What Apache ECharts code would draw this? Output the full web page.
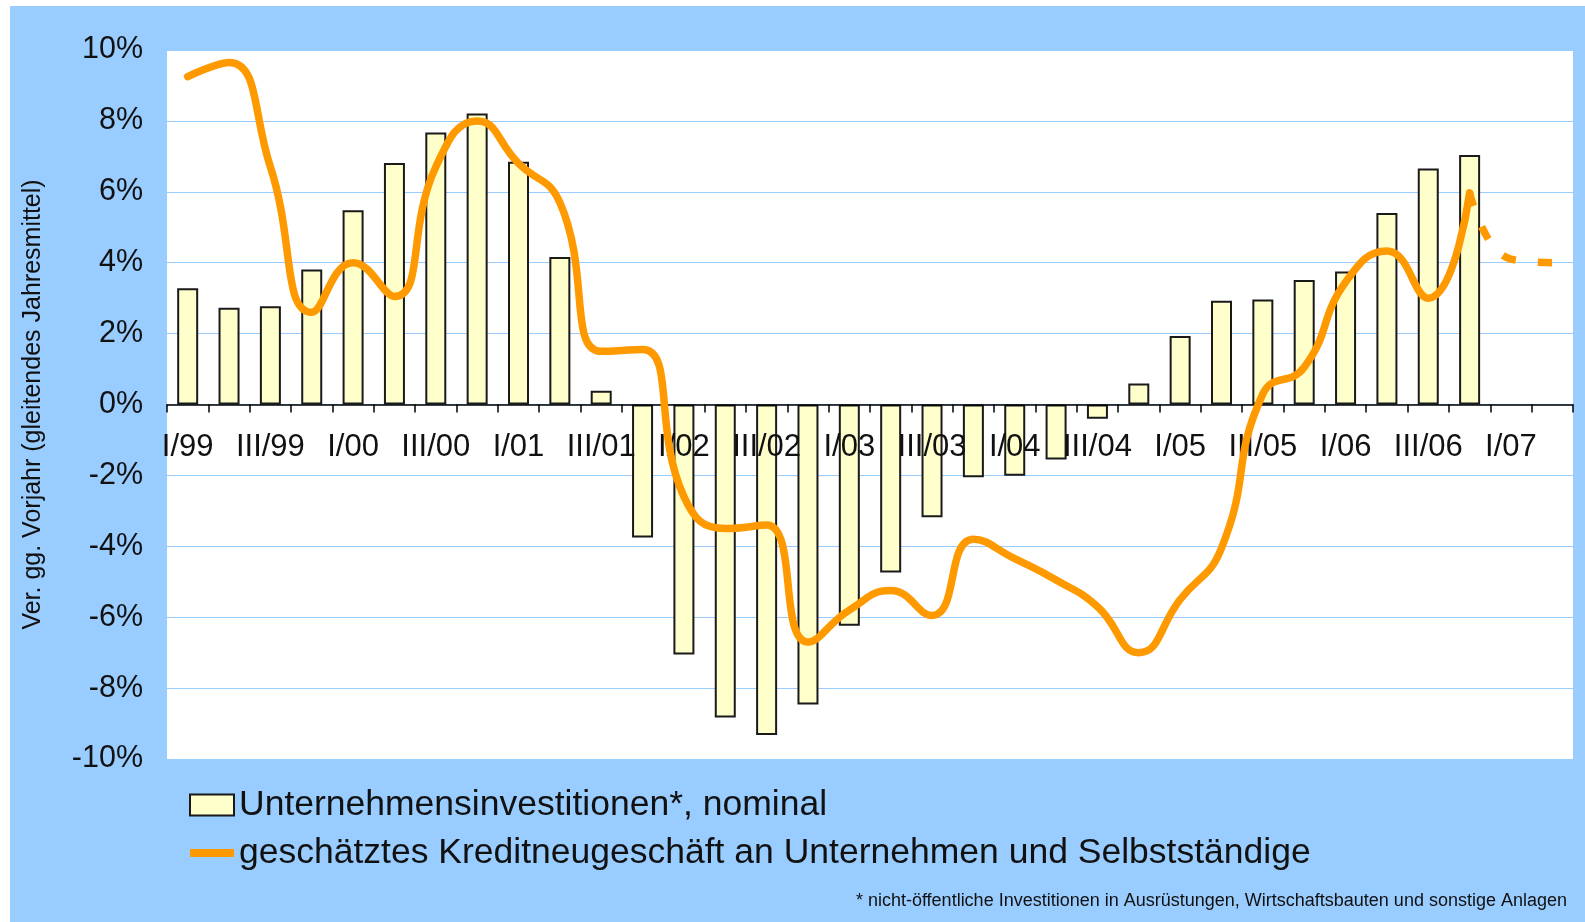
<!DOCTYPE html>
<html><head><meta charset="utf-8">
<script src="https://cdn.jsdelivr.net/npm/echarts@6/dist/echarts.min.js"></script>
<style>
html,body{margin:0;padding:0;background:#fff;width:1585px;height:922px;overflow:hidden}
#chart{position:absolute;left:10px;top:6px;width:1575px;height:916px}
</style>
</head><body><div id="chart"></div>
<script>
const categories = [
  'I/99','II/99','III/99','IV/99',
  'I/00','II/00','III/00','IV/00',
  'I/01','II/01','III/01','IV/01',
  'I/02','II/02','III/02','IV/02',
  'I/03','II/03','III/03','IV/03',
  'I/04','II/04','III/04','IV/04',
  'I/05','II/05','III/05','IV/05',
  'I/06','II/06','III/06','IV/06',
  'I/07','II/07'
];
const investValues = [
  3.28, 2.73, 2.77, 3.81, 5.48, 6.81, 7.67, 8.21, 6.85, 4.16, 0.39, -3.75,
  -7.05, -8.83, -9.32, -8.46, -6.24, -4.74, -3.18, -2.05, -2.01, -1.55, -0.40, 0.59,
  1.93, 2.93, 2.96, 3.51, 3.75, 5.40, 6.66, 7.04, null, null
];
const creditValues = [
  9.25, 9.65, 6.7, 2.6, 4.0, 3.05, 6.7, 8.0, 6.8, 5.7, 1.5, 1.55,
  -2.6, -3.5, -3.4, -6.7, -5.8, -5.25, -5.95, -3.8, -4.35, -4.95, -5.7, -7.0,
  -5.5, -4.05, 0.3, 1.05, 3.45, 4.33, 3.0, 5.97, null, null
];
const creditForecast = [
  null, null, null, null, null, null, null, null, null, null, null, null,
  null, null, null, null, null, null, null, null, null, null, null, null,
  null, null, null, null, null, null, null, 5.97, 4.1, 4.0
];
const seriesNames = [
  'Unternehmensinvestitionen*, nominal',
  'geschätztes Kreditneugeschäft an Unternehmen und Selbstständige'
];
const yAxisTitle = 'Ver. gg. Vorjahr (gleitendes Jahresmittel)';
const footnote = '* nicht-öffentliche Investitionen in Ausrüstungen, Wirtschaftsbauten und sonstige Anlagen';

const FONT = "'Liberation Sans', Arial, Helvetica, sans-serif";
const ORANGE = '#FF9900';
const Y_MIN = -10, Y_MAX = 10;
const GRID_H = 709;
// place the category axis on the zero value line
const zeroOffset = -GRID_H * (0 - Y_MIN) / (Y_MAX - Y_MIN);

const chart = echarts.init(document.getElementById('chart'));
chart.setOption({
  backgroundColor: '#99CCFF',
  animation: false,
  textStyle: { fontFamily: FONT },
  title: {
    text: footnote,
    right: 18, top: 886, padding: 0,
    textStyle: { fontSize: 18, fontWeight: 'normal', color: '#111', fontFamily: FONT }
  },
  grid: {
    left: 157, top: 44, width: 1406, height: GRID_H,
    show: true, backgroundColor: '#ffffff', borderWidth: 0,
    containLabel: false, outerBoundsMode: 'none'
  },
  legend: {
    orient: 'vertical',
    left: 179, top: 781, padding: 0,
    itemWidth: 44, itemHeight: 21, itemGap: 12,
    textStyle: { fontSize: 35.5, color: '#111', fontFamily: FONT },
    selectedMode: false,
    data: [
      { name: seriesNames[0], icon: 'rect',
        itemStyle: { color: '#FFFFCC', borderColor: '#1a1a1a', borderWidth: 2 } },
      { name: seriesNames[1], icon: 'path://M0,0 M0,6.5 L44,6.5 L44,14.5 L0,14.5 Z M44,21',
        itemStyle: { color: ORANGE, borderWidth: 0 } }
    ]
  },
  xAxis: {
    type: 'category',
    data: categories,
    boundaryGap: true,
    position: 'bottom',
    offset: zeroOffset,
    z: 3,
    axisLine: { onZero: false, lineStyle: { color: '#000', width: 1.5 } },
    axisTick: { show: true, interval: 0, length: 8, lineStyle: { color: '#000', width: 1.5 } },
    axisLabel: { interval: 1, margin: 27, fontSize: 31, color: '#111', fontFamily: FONT },
    splitLine: { show: false }
  },
  yAxis: {
    type: 'value',
    min: Y_MIN, max: Y_MAX, interval: 2,
    name: yAxisTitle,
    nameLocation: 'middle',
    nameRotate: 90,
    nameGap: 121,
    nameTextStyle: { fontSize: 25, color: '#111', fontFamily: FONT },
    axisLine: { show: false },
    axisTick: { show: false },
    axisLabel: { formatter: '{value}%', fontSize: 30.5, color: '#111', margin: 24, fontFamily: FONT },
    splitLine: { show: true, lineStyle: { color: '#99CCFF', width: 1.2 } }
  },
  series: [
    {
      name: seriesNames[0],
      type: 'bar',
      data: investValues,
      barWidth: 21,
      z: 2,
      itemStyle: { color: '#FFFFCC', borderColor: '#1a1a1a', borderWidth: 2 }
    },
    {
      name: seriesNames[1],
      type: 'line',
      data: creditValues,
      smooth: 0.5,
      symbol: 'none',
      z: 5,
      lineStyle: { color: ORANGE, width: 7.5, cap: 'round', join: 'round' },
      itemStyle: { color: ORANGE }
    },
    {
      name: seriesNames[1],
      type: 'line',
      data: creditForecast,
      smooth: 0.5,
      symbol: 'none',
      z: 5,
      lineStyle: { color: ORANGE, width: 7.5, type: [14, 22], cap: 'butt' },
      itemStyle: { color: ORANGE }
    }
  ]
});
</script></body></html>
